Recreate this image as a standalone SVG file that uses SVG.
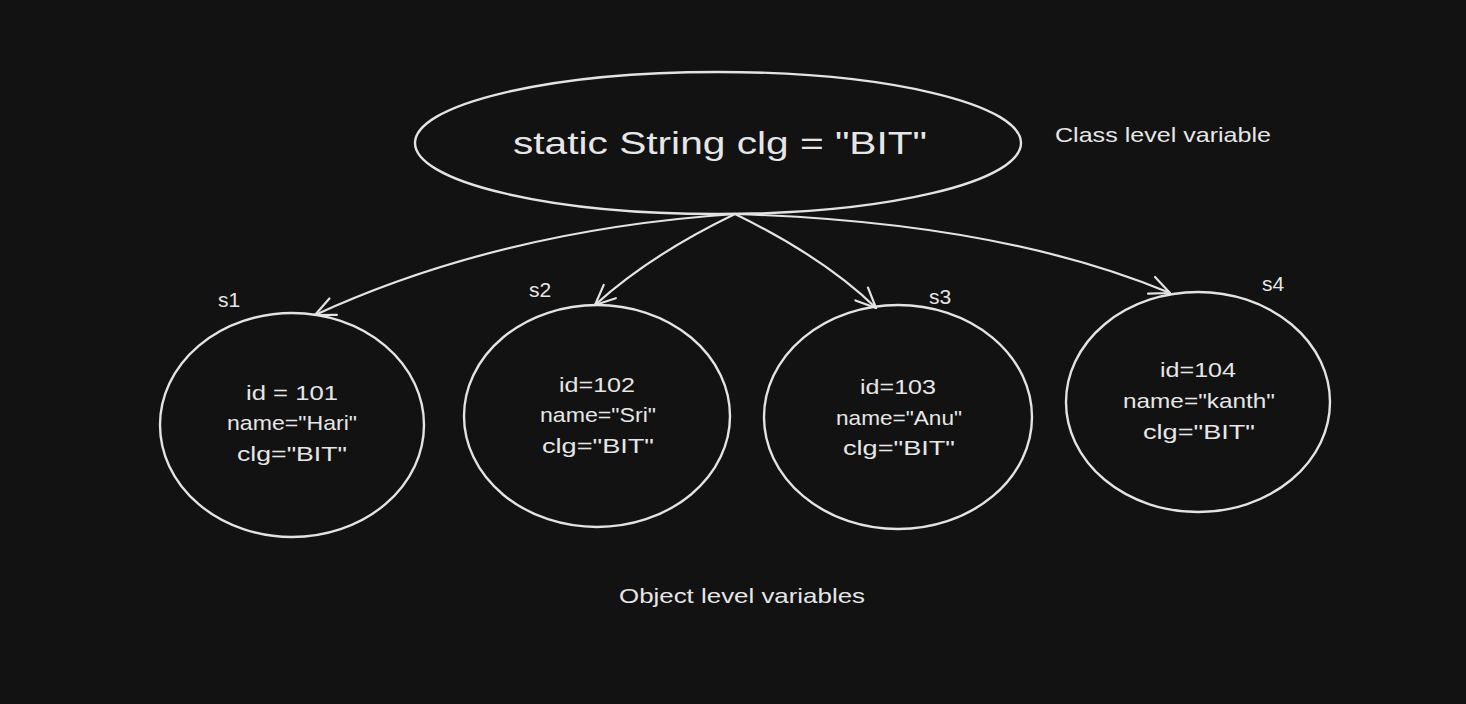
<svg xmlns="http://www.w3.org/2000/svg" width="1466" height="704" viewBox="0 0 1466 704">
<style>
.shape{fill:none;stroke:#e3e3e3;stroke-width:2.4;stroke-linecap:round;stroke-linejoin:round}
.conn{fill:none;stroke:#e3e3e3;stroke-width:2.2;stroke-linecap:round;stroke-linejoin:round}
text{fill:#e6e6e6;font-family:"Liberation Sans","Open Sans",sans-serif;text-anchor:middle}
.t{font-size:21px}
.lbl{font-size:21px}
</style>
<defs>
<marker id="ah" viewBox="0 0 24 24" refX="22" refY="12" markerWidth="24" markerHeight="24" markerUnits="userSpaceOnUse" orient="auto">
<path d="M2,3 L22,12 L2,21" fill="none" stroke="#e3e3e3" stroke-width="2.2" stroke-linecap="round" stroke-linejoin="round"/>
</marker>
</defs>
<rect width="1466" height="704" fill="#121212"/>

<g id="connectors">
<path class="conn" d="M735,214 Q500,230 315,315" marker-end="url(#ah)"/>
<path class="conn" d="M735,214 Q650,255 595,305" marker-end="url(#ah)"/>
<path class="conn" d="M735,214 Q825,258 876,308" marker-end="url(#ah)"/>
<path class="conn" d="M735,214 Q1000,222 1170,293" marker-end="url(#ah)"/>
</g>

<g id="static-node">
<ellipse class="shape" cx="718" cy="143" rx="303" ry="71"/>
<text x="720" y="154" font-size="32" textLength="414" lengthAdjust="spacingAndGlyphs">static String clg = "BIT"</text>
</g>

<g id="class-label">
<text class="lbl" x="1163" y="142" textLength="216" lengthAdjust="spacingAndGlyphs">Class level variable</text>
</g>

<g id="s1">
<ellipse class="shape" cx="292" cy="425" rx="132" ry="112"/>
<text class="t" x="292" y="400" textLength="92" lengthAdjust="spacingAndGlyphs">id = 101</text>
<text class="t" x="292" y="430" textLength="130" lengthAdjust="spacingAndGlyphs">name="Hari"</text>
<text class="t" x="292" y="461" textLength="110" lengthAdjust="spacingAndGlyphs">clg="BIT"</text>
<text class="lbl" x="229" y="307">s1</text>
</g>

<g id="s2">
<ellipse class="shape" cx="597" cy="416" rx="133" ry="111"/>
<text class="t" x="597" y="392" textLength="76" lengthAdjust="spacingAndGlyphs">id=102</text>
<text class="t" x="598" y="422" textLength="116" lengthAdjust="spacingAndGlyphs">name="Sri"</text>
<text class="t" x="598" y="453" textLength="112" lengthAdjust="spacingAndGlyphs">clg="BIT"</text>
<text class="lbl" x="540" y="297">s2</text>
</g>

<g id="s3">
<ellipse class="shape" cx="898" cy="417" rx="134" ry="112"/>
<text class="t" x="898" y="394" textLength="76" lengthAdjust="spacingAndGlyphs">id=103</text>
<text class="t" x="899" y="425" textLength="126" lengthAdjust="spacingAndGlyphs">name="Anu"</text>
<text class="t" x="899" y="455" textLength="112" lengthAdjust="spacingAndGlyphs">clg="BIT"</text>
<text class="lbl" x="940" y="304">s3</text>
</g>

<g id="s4">
<ellipse class="shape" cx="1198" cy="402" rx="132" ry="110"/>
<text class="t" x="1198" y="377" textLength="76" lengthAdjust="spacingAndGlyphs">id=104</text>
<text class="t" x="1199" y="408" textLength="152" lengthAdjust="spacingAndGlyphs">name="kanth"</text>
<text class="t" x="1199" y="439" textLength="112" lengthAdjust="spacingAndGlyphs">clg="BIT"</text>
<text class="lbl" x="1273" y="291">s4</text>
</g>

<g id="object-label">
<text class="lbl" x="742" y="603" textLength="246" lengthAdjust="spacingAndGlyphs">Object level variables</text>
</g>
</svg>
